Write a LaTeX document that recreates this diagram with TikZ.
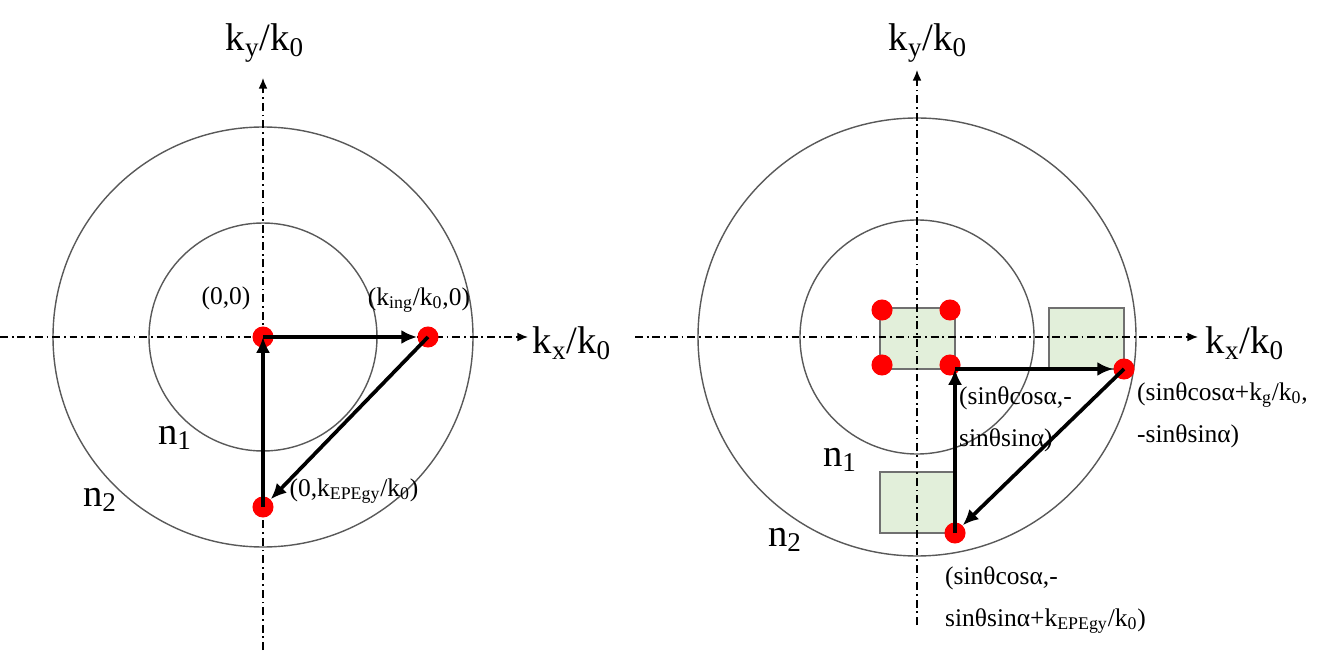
\documentclass[tikz,border=0pt]{standalone}
\usepackage{fontspec}
\setmainfont{Liberation Serif}
\usetikzlibrary{arrows.meta}

\definecolor{ringgray}{HTML}{595959}
\definecolor{boxgreen}{HTML}{E2EFDA}
\definecolor{boxedge}{HTML}{707070}

\tikzset{
  axis/.style={line width=0.8pt,dash pattern=on 4.5pt off 2.2pt on 1pt off 2.2pt,
    -{Latex[length=6pt,width=5pt]}},
  ring/.style={draw=ringgray,line width=0.8pt},
  spot/.style={circle,fill=red,inner sep=0pt,minimum size=12pt},
  vec/.style={-{Latex[length=9pt,width=8pt]},line width=2.1pt},
  cell/.style={fill=boxgreen,draw=boxedge,line width=0.8pt},
  small/.style={font=\fontsize{14.5}{24}\selectfont},
  big/.style={font=\fontsize{22}{26}\selectfont},
}

\begin{document}
\begin{tikzpicture}[x=0.02cm,y=-0.02cm]
  \useasboundingbox (0,0) rectangle (1331,651);

  % left: k-space at normal incidence
  \draw[ring] (263,337) circle (114);
  \draw[ring] (263,337) circle (210);
  \draw[axis] (0,337) -- (528,337);
  \draw[axis] (263,650) -- (263,78);
  \node[big] (kxl) at (572,343) {k\textsubscript{x}/k\textsubscript{0}};
  \node[big] (kyl) at (265,43) {k\textsubscript{y}/k\textsubscript{0}};

  \node[spot] (o) at (263,337) {};
  \node[spot] (ing) at (428,337) {};
  \node[spot] (epe) at (263,507) {};
  \draw[vec] (o.center) -- (ing.west);
  \draw[vec] (ing.center) -- (epe.north east);
  \draw[vec] (epe.center) -- (o.center);

  \node[small] (lo) at (226,298) {(0,0)};
  \node[small] (ling) at (419,300) {(k\textsubscript{ing}/k\textsubscript{0},0)};
  \node[small] (lepe) at (354,491) {(0,k\textsubscript{EPEgy}/k\textsubscript{0})};
  \node[big] (n1l) at (175,438) {n\textsubscript{1}};
  \node[big] (n2l) at (100,500) {n\textsubscript{2}};

  % right: k-space at oblique incidence
  \draw[ring] (917,337) circle (117);
  \draw[ring] (917,337) circle (219);
  \fill[cell] (880,308) rectangle (955,369);
  \fill[cell] (1049,308) rectangle (1124,369);
  \fill[cell] (880,472) rectangle (955,533);
  \draw[axis] (635,337) -- (1198,337);
  \draw[axis] (917,625) -- (917,70);
  \node[big] (kxr) at (1245,343) {k\textsubscript{x}/k\textsubscript{0}};
  \node[big] (kyr) at (928,43) {k\textsubscript{y}/k\textsubscript{0}};

  \node[spot] (c1) at (882,310) {};
  \node[spot] (c2) at (950,310) {};
  \node[spot] (c3) at (882,365) {};
  \node[spot] (a) at (950,365) {};
  \node[spot] (b) at (1124,369) {};
  \node[spot] (c) at (955,533) {};
  \coordinate (a0) at (955,369);
  \coordinate (c0) at (955,533);
  \draw[vec] (a0) -- (b.west);
  \draw[vec] (b.center) -- (c.north east);
  \draw[vec] (c0) -- (a0);

  \node[small,anchor=west,align=left] (la) at (953,419)
    {(sinθcosα,-\\sinθsinα)};
  \node[small,anchor=west,align=left] (lb) at (1131,415)
    {(sinθcosα+k\textsubscript{g}/k\textsubscript{0},\\-sinθsinα)};
  \node[small,anchor=west,align=left] (lc) at (939,600)
    {(sinθcosα,-\\sinθsinα+k\textsubscript{EPEgy}/k\textsubscript{0})};
  \node[big] (n1r) at (840,460) {n\textsubscript{1}};
  \node[big] (n2r) at (785,540) {n\textsubscript{2}};
\end{tikzpicture}
\end{document}
